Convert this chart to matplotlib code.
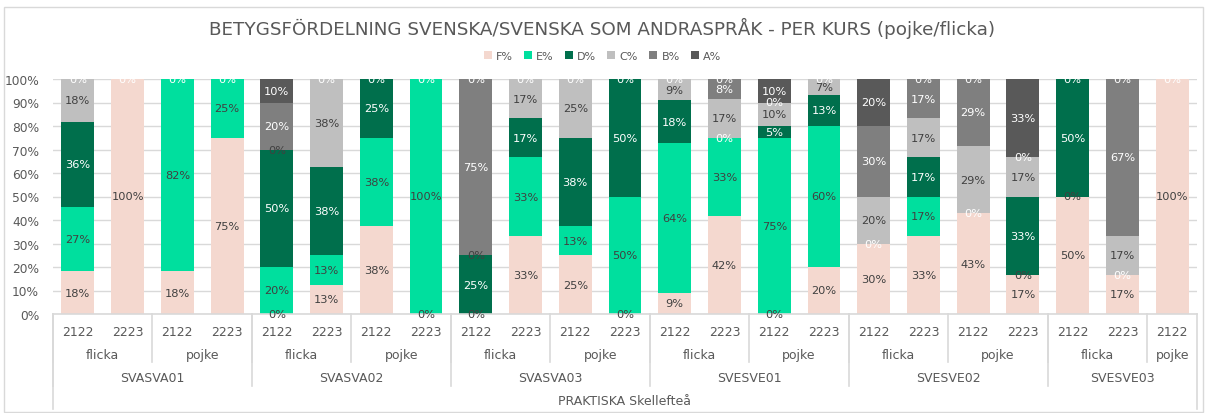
import numpy as np
import matplotlib.pyplot as plt
from matplotlib.patches import Patch, Rectangle

nan = np.nan

# one entry per bar (23 bars)
courses = (['SVASVA01'] * 4 + ['SVASVA02'] * 4 + ['SVASVA03'] * 4 +
           ['SVESVE01'] * 4 + ['SVESVE02'] * 4 + ['SVESVE03'] * 3)
genders = ['flicka', 'flicka', 'pojke', 'pojke'] * 5 + ['flicka', 'flicka', 'pojke']
years = ['2122', '2223'] * 11 + ['2122']
school = 'PRAKTISKA Skellefteå'

# grade shares in percent, nan = no value (no label)
F = [18.2, 100, 18.2, 75, 0, 12.5, 37.5, 0, 0, 33.3, 25, 0,
     9.1, 41.7, 0, 20, 30, 33.3, 42.9, 16.7, 50, 16.7, 100]
E = [27.3, nan, 81.8, 25, 20, 12.5, 37.5, 100, nan, 33.3, 12.5, 50,
     63.6, 33.3, 75, 60, nan, 16.7, nan, 0, 0, nan, nan]
D = [36.4, nan, nan, nan, 50, 37.5, 25, nan, 25, 16.7, 37.5, 50,
     18.2, 0, 5, 13.3, 0, 16.7, 0, 33.3, 50, 0, nan]
C = [18.1, nan, nan, nan, 0, 37.5, nan, nan, 0, 16.7, 25, nan,
     9.1, 16.7, 10, 6.7, 20, 16.7, 28.6, 16.7, nan, 16.7, nan]
B = [nan, nan, nan, nan, 20, nan, nan, nan, 75, nan, nan, nan,
     nan, 8.3, 0, nan, 30, 16.6, 28.5, 0, nan, 66.6, nan]
A = [0, 0, 0, 0, 10, 0, 0, 0, 0, 0, 0, 0,
     0, 0, 10, 0, 20, 0, 0, 33.3, 0, 0, 0]

series = [('F%', F, '#F4D8CF', '#404040'),
          ('E%', E, '#00DF9E', '#404040'),
          ('D%', D, '#006F4C', 'white'),
          ('C%', C, '#BFBFBF', '#404040'),
          ('B%', B, '#7F7F7F', 'white'),
          ('A%', A, '#595959', 'white')]

W, H = 1205, 414
fig = plt.figure(figsize=(W / 100, H / 100), dpi=100)
plt.rcParams['font.family'] = 'DejaVu Sans'

# plot area in pixels: x 53..1197, y 80..315
ax = fig.add_axes([53 / W, 1 - 315 / H, (1197 - 53) / W, (315 - 80) / H])
x = np.arange(len(years))
bottom = np.zeros(len(years))
for name, vals, color, tcolor in series:
    v = np.array(vals, dtype=float)
    h = np.nan_to_num(v)
    bars = ax.bar(x, h, 0.66, bottom=bottom, color=color, label=name, zorder=2)
    labels = ['' if np.isnan(val) else f'{int(val + 0.5)}%' for val in v]
    ax.bar_label(bars, labels=labels, label_type='center', color=tcolor,
                 fontsize=8.2, zorder=3)
    bottom += h

ax.set_xlim(-0.5, len(years) - 0.5)
ax.set_ylim(0, 100)
ax.set_yticks(np.arange(0, 101, 10))
ax.set_yticklabels([f'{t}%' for t in range(0, 101, 10)], fontsize=8.8, color='#595959')
ax.yaxis.grid(True, color='#D9D9D9', linewidth=1, zorder=0)
ax.tick_params(length=0, pad=10)
ax.set_xticks([])
for s in ['left', 'right', 'top']:
    ax.spines[s].set_visible(False)
ax.spines['bottom'].set_color('#D9D9D9')
ax.spines['bottom'].set_linewidth(1.2)


def ay(px):
    return (315 - px) / (315 - 80)


tr = ax.get_xaxis_transform()
txt = dict(transform=tr, ha='center', va='center', color='#595959', clip_on=False)
for i, yr in enumerate(years):
    ax.text(i, ay(332), yr, fontsize=9, **txt)


def runs(keys):
    out, start = [], 0
    for i in range(1, len(keys) + 1):
        if i == len(keys) or keys[i] != keys[start]:
            out.append((keys[start], start, i - 1))
            start = i
    return out


line = dict(transform=tr, color='#D9D9D9', linewidth=1.2, clip_on=False)
for (c, g), s, e in runs(list(zip(courses, genders))):
    ax.text((s + e) / 2, ay(356), g, fontsize=9, **txt)
    ax.plot([s - 0.5, s - 0.5], [0, ay(363)], **line)
for c, s, e in runs(courses):
    ax.text((s + e) / 2, ay(379), c, fontsize=9, **txt)
    ax.plot([s - 0.5, s - 0.5], [0, ay(387)], **line)
ax.text((len(years) - 1) / 2, ay(402), school, fontsize=9, **txt)
ax.plot([-0.5, -0.5], [0, ay(410)], **line)
ax.plot([len(years) - 0.5] * 2, [0, ay(410)], **line)

fig.text(0.5, 1 - 28 / H,
         'BETYGSFÖRDELNING SVENSKA/SVENSKA SOM ANDRASPRÅK - PER KURS (pojke/flicka)',
         ha='center', va='center', fontsize=13.2, color='#595959')

handles = [Patch(facecolor=c, label=n) for n, _, c, _ in series]
fig.legend(handles=handles, loc='center', bbox_to_anchor=(0.5, 1 - 57 / H),
           ncol=6, frameon=False, fontsize=8, handlelength=0.7, handleheight=0.7,
           handletextpad=0.4, columnspacing=1.0, labelcolor='#595959')

fig.patches.append(Rectangle((4 / W, 1 / H), (W - 6) / W, (H - 9) / H,
                             transform=fig.transFigure, fill=False,
                             edgecolor='#D9D9D9', linewidth=1))

fig.savefig('out.png', dpi=100)
